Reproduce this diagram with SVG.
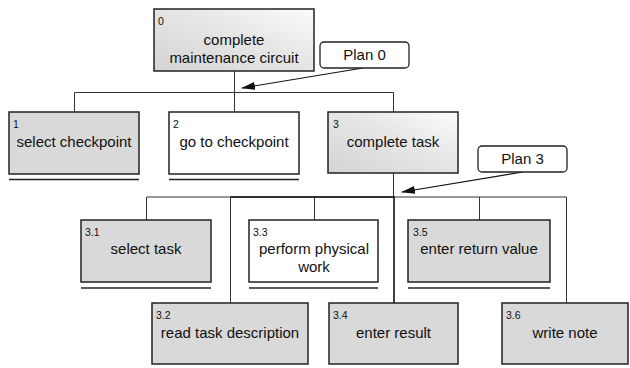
<svg xmlns="http://www.w3.org/2000/svg" width="630" height="368" viewBox="0 0 630 368">
  <defs>
    <linearGradient id="shade" x1="0" y1="1" x2="1" y2="0">
      <stop offset="0" stop-color="#d4d4d4"/>
      <stop offset="0.55" stop-color="#e6e6e6"/>
      <stop offset="1" stop-color="#fbfbfb"/>
    </linearGradient>
    <marker id="arrow" viewBox="0 0 14 8" refX="13" refY="4" markerWidth="14" markerHeight="8" markerUnits="userSpaceOnUse" orient="auto">
      <path d="M0,0 L14,4 L0,8 Z" fill="#111"/>
    </marker>
  </defs>
  <style>
    text { font-family: "Liberation Sans", Arial, sans-serif; fill: #111; }
    .num { font-size: 10.5px; }
    .lbl { font-size: 15px; text-anchor: middle; }
    .box { stroke: #222; stroke-width: 1.5; }
    .grey { fill: #d9d9d9; }
    .white { fill: #fff; }
    .grad { fill: url(#shade); }
    .plan { fill: #fff; stroke: #222; stroke-width: 1.3; }
    .stop { stroke: #222; stroke-width: 1.5; }
    .wire { fill: none; stroke: #333; stroke-width: 1; }
    .wire-strong { fill: none; stroke: #111; stroke-width: 1.6; }
    .ptr { fill: none; stroke: #111; stroke-width: 1.2; marker-end: url(#arrow); }
  </style>

  <rect width="630" height="368" fill="#fff"/>

  <!-- connectors -->
  <g id="connectors">
    <path class="wire" d="M234.5,71 V92.5 M74.5,112 V92.5 H393.5 V112 M234.5,92.5 V112"/>
    <path class="wire" d="M393.5,173 V197 M146.5,220 V197 H566.5 V303 M230.5,197 V303 M314.5,197 V220 M479.5,197 V220"/>
    <path class="wire-strong" d="M230.5,197 H394 V303"/>
    <path class="ptr" d="M363,68 L242,88"/>
    <path class="ptr" d="M523,172 L402,192"/>
  </g>

  <!-- plans -->
  <g id="plan0">
    <rect class="plan" x="320" y="42" width="89" height="26" rx="4"/>
    <text class="lbl" x="364.5" y="60">Plan 0</text>
  </g>
  <g id="plan3">
    <rect class="plan" x="478" y="146" width="89" height="26" rx="4"/>
    <text class="lbl" x="522.5" y="164">Plan 3</text>
  </g>

  <!-- task nodes -->
  <g id="task0">
    <rect class="box grad" x="154" y="9" width="160" height="62"/>
    <text class="num" x="158" y="25">0</text>
    <text class="lbl" x="234" y="45">complete</text>
    <text class="lbl" x="234" y="63">maintenance circuit</text>
  </g>

  <g id="task1">
    <rect class="box grey" x="9" y="112" width="130" height="62"/>
    <text class="num" x="13" y="128">1</text>
    <text class="lbl" x="74" y="147">select checkpoint</text>
    <line class="stop" x1="9" y1="179.5" x2="139" y2="179.5"/>
  </g>

  <g id="task2">
    <rect class="box white" x="169" y="112" width="130" height="62"/>
    <text class="num" x="173" y="128">2</text>
    <text class="lbl" x="234" y="147">go to checkpoint</text>
    <line class="stop" x1="169" y1="179.5" x2="299" y2="179.5"/>
  </g>

  <g id="task3">
    <rect class="box grad" x="328" y="112" width="130" height="61"/>
    <text class="num" x="333" y="128">3</text>
    <text class="lbl" x="393" y="147">complete task</text>
  </g>

  <g id="task3-1">
    <rect class="box grey" x="81" y="220" width="130" height="62"/>
    <text class="num" x="85" y="236">3.1</text>
    <text class="lbl" x="146" y="254">select task</text>
    <line class="stop" x1="81" y1="288" x2="211" y2="288"/>
  </g>

  <g id="task3-3">
    <rect class="box white" x="249" y="220" width="129" height="62"/>
    <text class="num" x="253" y="236">3.3</text>
    <text class="lbl" x="314" y="254">perform physical</text>
    <text class="lbl" x="314" y="272">work</text>
    <line class="stop" x1="249" y1="288" x2="378" y2="288"/>
  </g>

  <g id="task3-5">
    <rect class="box grey" x="408" y="220" width="142" height="62"/>
    <text class="num" x="413" y="236">3.5</text>
    <text class="lbl" x="479" y="254">enter return value</text>
    <line class="stop" x1="408" y1="288" x2="550" y2="288"/>
  </g>

  <g id="task3-2">
    <rect class="box grey" x="152" y="303" width="156" height="61"/>
    <text class="num" x="156" y="319">3.2</text>
    <text class="lbl" x="230" y="338">read task description</text>
  </g>

  <g id="task3-4">
    <rect class="box grey" x="329" y="303" width="129" height="61"/>
    <text class="num" x="333" y="319">3.4</text>
    <text class="lbl" x="393.5" y="338">enter result</text>
  </g>

  <g id="task3-6">
    <rect class="box grey" x="502" y="303" width="126" height="61"/>
    <text class="num" x="506" y="319">3.6</text>
    <text class="lbl" x="565" y="338">write note</text>
  </g>
</svg>
